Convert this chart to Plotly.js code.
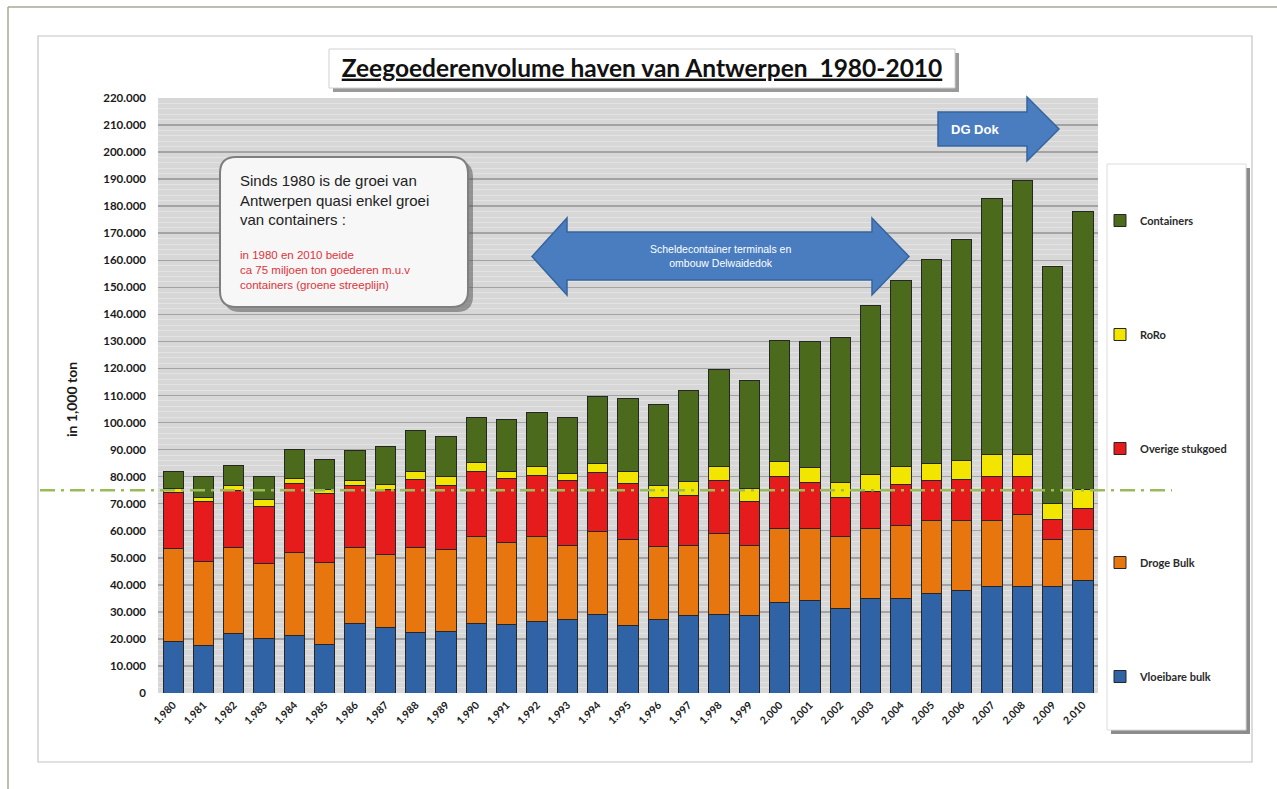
<!DOCTYPE html>
<html>
<head>
<meta charset="utf-8">
<script src="https://cdn.plot.ly/plotly-3.0.1.min.js"></script>
<style>
  html, body { margin: 0; padding: 0; background: #ffffff; }
  #chart { width: 1277px; height: 789px; }
</style>
</head>
<body>
<div id="chart"></div>
<script>
// ---------- DATA (in 1.000 ton) ----------
const years = [1980, 1981, 1982, 1983, 1984, 1985, 1986, 1987, 1988, 1989,
               1990, 1991, 1992, 1993, 1994, 1995, 1996, 1997, 1998, 1999,
               2000, 2001, 2002, 2003, 2004, 2005, 2006, 2007, 2008, 2009, 2010];

const vloeibareBulk = [19000, 17400, 22100, 20100, 21400, 18000, 25800, 24200, 22300, 22900,
                       25800, 25500, 26600, 27200, 29200, 25100, 27000, 28600, 29100, 28800,
                       33300, 34100, 31300, 34900, 34900, 36700, 38000, 39200, 39200, 39200, 41500];

const drogeBulk = [34600, 31100, 31800, 27600, 30500, 30400, 28100, 26900, 31600, 30000,
                   32200, 30100, 31200, 27500, 30400, 31700, 27100, 26100, 29900, 25900,
                   27600, 26800, 26400, 26000, 27000, 27100, 25800, 24600, 26800, 17600, 18800];

const overigeStukgoed = [20500, 22200, 21100, 21400, 25600, 25200, 23000, 24200, 25100, 24000,
                         23800, 23800, 22800, 23800, 21800, 20500, 18200, 18500, 19700, 16000,
                         19100, 16900, 14700, 13500, 15100, 14700, 15300, 16200, 14000, 7400, 8000];

const roro = [1600, 1600, 1600, 2500, 1900, 1700, 1800, 1800, 2800, 3300,
              3300, 2600, 3100, 2500, 3400, 4500, 4300, 4900, 5000, 5000,
              5600, 5400, 5500, 6400, 6600, 6400, 6700, 8100, 8100, 6000, 7000];

const containers = [6100, 7700, 7700, 8400, 10700, 11100, 11100, 14000, 15100, 14800,
                    16800, 19200, 19900, 20900, 24700, 27100, 29900, 33900, 36100, 40000,
                    44800, 46700, 53700, 62300, 68800, 75400, 81700, 94900, 101300, 87600, 102900];

const seriesNames = ['Vloeibare bulk', 'Droge Bulk', 'Overige stukgoed', 'RoRo', 'Containers'];
const referenceLevel = 75000; // groene streeplijn: ca 75 miljoen ton excl. containers

// ---------- STYLE ----------
const colors = ['#2f63a6', '#e8760f', '#e61c1c', '#f2e600', '#4b6a1c'];
const seriesValues = [vloeibareBulk, drogeBulk, overigeStukgoed, roro, containers];

const traces = seriesNames.map((name, i) => ({
  type: 'bar',
  name: name,
  x: years,
  y: seriesValues[i],
  legendgroup: 'g' + i,
  legendrank: 1000 - i,
  marker: { color: colors[i], line: { color: '#262626', width: 1 } },
  hoverinfo: 'x+y+name'
}));

// plot area in pixels (for decorations)
const W = 1277, H = 789;
const PL = 158, PR = 1098, PT = 98, PB = 693;
const fx = px => (px - PL) / (PR - PL);
const fy = py => (PB - py) / (PB - PT);
function poly(pts) {
  return 'M ' + pts.map(p => fx(p[0]).toFixed(5) + ',' + fy(p[1]).toFixed(5)).join(' L ') + ' Z';
}
function roundRect(x0, y0, x1, y1, r) {
  const p = (x, y) => fx(x).toFixed(5) + ',' + fy(y).toFixed(5);
  return 'M ' + p(x0 + r, y0) + ' L ' + p(x1 - r, y0) + ' Q ' + p(x1, y0) + ' ' + p(x1, y0 + r) +
         ' L ' + p(x1, y1 - r) + ' Q ' + p(x1, y1) + ' ' + p(x1 - r, y1) +
         ' L ' + p(x0 + r, y1) + ' Q ' + p(x0, y1) + ' ' + p(x0, y1 - r) +
         ' L ' + p(x0, y0 + r) + ' Q ' + p(x0, y0) + ' ' + p(x0 + r, y0) + ' Z';
}
function rectShape(x0, y0, x1, y1, fill, line, lw, layer) {
  return { type: 'rect', xref: 'paper', yref: 'paper', x0: fx(x0), x1: fx(x1), y0: fy(y1), y1: fy(y0),
           fillcolor: fill, line: { color: line, width: lw }, layer: layer || 'above' };
}

const arrowFill = '#4a7dbf', arrowLine = '#36649e';

const shapes = [
  // outer page frame lines
  { type: 'line', xref: 'paper', yref: 'paper', x0: fx(8), x1: fx(8), y0: fy(7), y1: fy(789), line: { color: '#a9a995', width: 1.5 }, layer: 'below' },
  { type: 'line', xref: 'paper', yref: 'paper', x0: fx(8), x1: fx(1277), y0: fy(7), y1: fy(7), line: { color: '#a9a995', width: 1.5 }, layer: 'below' },
  // chart box
  rectShape(38, 36, 1252, 762, 'rgba(0,0,0,0)', '#c4c4c4', 1.2, 'below'),
  // title box
  rectShape(333, 53, 959, 92, '#9a9a9a', '#9a9a9a', 0, 'below'),
  rectShape(329, 49, 955, 88, '#ffffff', '#d0d0d0', 1, 'below'),
  // legend box
  rectShape(1111, 168, 1250, 734, '#8c8c8c', '#8c8c8c', 0, 'below'),
  rectShape(1107, 164, 1246, 730, '#ffffff', '#dcdcdc', 1, 'below'),
  // text box with shadow
  { type: 'path', xref: 'paper', yref: 'paper', path: roundRect(224, 161, 473, 312, 16), fillcolor: 'rgba(90,90,90,0.55)', line: { width: 0 }, layer: 'above' },
  { type: 'path', xref: 'paper', yref: 'paper', path: roundRect(220, 157, 468, 307, 16), fillcolor: '#f7f7f7', line: { color: '#7f7f7f', width: 2 }, layer: 'above' },
  // double arrow
  { type: 'path', xref: 'paper', yref: 'paper',
    path: poly([[532, 256.5], [567, 218], [567, 232], [872, 232], [872, 218], [909, 256.5], [872, 295], [872, 280], [567, 280], [567, 295]]),
    fillcolor: arrowFill, line: { color: arrowLine, width: 1.5 }, layer: 'above' },
  // DG Dok arrow
  { type: 'path', xref: 'paper', yref: 'paper',
    path: poly([[938, 112], [1027, 112], [1027, 97], [1059, 129], [1027, 161], [1027, 146], [938, 146]]),
    fillcolor: arrowFill, line: { color: arrowLine, width: 1.5 }, layer: 'above' },
  // reference line at ca 75 miljoen ton
  { type: 'line', xref: 'paper', yref: 'y', x0: fx(40), x1: fx(1172), y0: referenceLevel, y1: referenceLevel,
    line: { color: '#9bbb59', width: 2.5, dash: 'longdashdot' }, layer: 'above' }
];

const annotations = [
  { xref: 'paper', yref: 'paper', x: fx(238), y: fy(170), xanchor: 'left', yanchor: 'top', align: 'left', showarrow: false,
    text: 'Sinds 1980 is de groei van<br>Antwerpen quasi enkel groei<br>van containers :',
    font: { family: 'Liberation Sans, Arial, sans-serif', size: 15, color: '#222222' } },
  { xref: 'paper', yref: 'paper', x: fx(238), y: fy(247), xanchor: 'left', yanchor: 'top', align: 'left', showarrow: false,
    text: 'in 1980 en 2010 beide<br>ca 75 miljoen ton goederen m.u.v<br>containers (groene streeplijn)',
    font: { family: 'Liberation Sans, Arial, sans-serif', size: 11.5, color: '#e0333a' } },
  { xref: 'paper', yref: 'paper', x: fx(720), y: fy(256), xanchor: 'center', yanchor: 'middle', showarrow: false,
    text: 'Scheldecontainer terminals en<br>ombouw Delwaidedok',
    font: { family: 'Liberation Sans, Arial, sans-serif', size: 10.5, color: '#ffffff' } },
  { xref: 'paper', yref: 'paper', x: fx(975), y: fy(129), xanchor: 'center', yanchor: 'middle', showarrow: false,
    text: '<b>DG Dok</b>',
    font: { family: 'Liberation Sans, Arial, sans-serif', size: 13, color: '#ffffff' } },
  { xref: 'paper', yref: 'paper', x: fx(71), y: fy(400), xanchor: 'center', yanchor: 'middle', showarrow: false, textangle: -90,
    text: '<b>in 1,000 ton</b>',
    font: { family: 'Lato, Liberation Sans, sans-serif', size: 14, color: '#1a1a1a' } }
];

const layout = {
  width: W, height: H,
  margin: { l: PL, r: W - PR, t: PT, b: H - PB, autoexpand: false },
  paper_bgcolor: '#ffffff',
  plot_bgcolor: '#d7d7d7',
  separators: ',.',
  barmode: 'stack',
  bargap: 0.33,
  title: {
    text: '<u>Zeegoederenvolume haven van Antwerpen&nbsp; 1980-2010</u>',
    font: { family: 'Lato, Liberation Sans, sans-serif', size: 24.5, weight: 'bold', color: '#111111' },
    xref: 'container', yref: 'container', x: 642 / W, xanchor: 'center', y: 1 - 68 / H, yanchor: 'middle'
  },
  xaxis: {
    range: [1979.5, 2010.5],
    tickmode: 'linear', tick0: 1980, dtick: 1,
    tickformat: ',d',
    tickangle: -45,
    showgrid: false, zeroline: false, showline: false,
    ticks: '',
    ticklabelstandoff: 3,
    tickfont: { family: 'Lato, Liberation Sans, sans-serif', size: 10.5, weight: 'bold', color: '#1a1a1a' }
  },
  yaxis: {
    range: [0, 220000],
    tickmode: 'linear', tick0: 0, dtick: 10000,
    tickformat: ',d',
    showgrid: true, gridcolor: '#a3a3a3', gridwidth: 1.5,
    minor: { dtick: 2000, showgrid: true, gridcolor: '#e3e3e3', gridwidth: 1 },
    zeroline: false, showline: false,
    ticks: '',
    ticklabelstandoff: 11,
    tickfont: { family: 'Lato, Liberation Sans, sans-serif', size: 11.5, weight: 'bold', color: '#1a1a1a' }
  },
  showlegend: true,
  legend: {
    xref: 'container', yref: 'container',
    x: 1100 / W, xanchor: 'left',
    y: 1 - 206 / H, yanchor: 'top',
    traceorder: 'grouped',
    tracegroupgap: 95,
    maxheight: 700,
    bgcolor: 'rgba(0,0,0,0)',
    borderwidth: 0,
    itemwidth: 30,
    font: { family: 'Lato, Liberation Sans, sans-serif', size: 11, weight: 'bold', color: '#2a2a2a' }
  },
  shapes: shapes,
  annotations: annotations
};

Plotly.newPlot('chart', traces, layout, { displayModeBar: false, staticPlot: true });
</script>
</body>
</html>
